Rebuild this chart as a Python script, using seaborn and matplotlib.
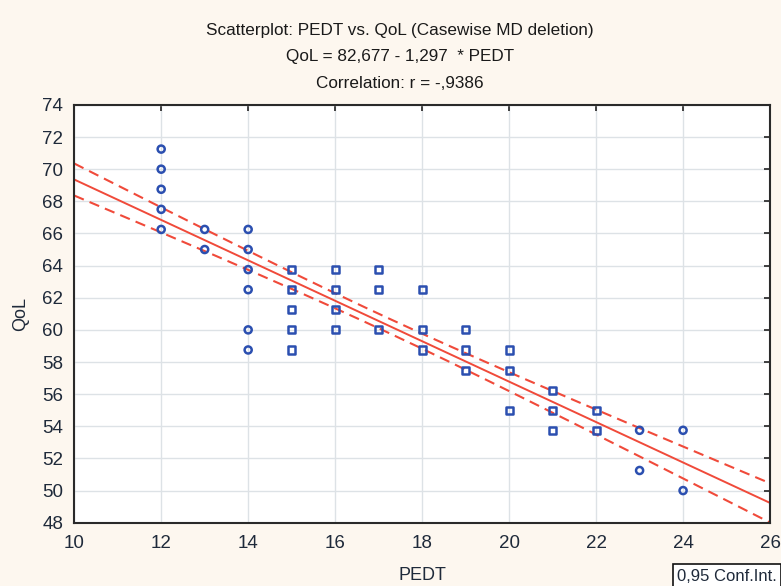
import numpy as np
import pandas as pd
import matplotlib
matplotlib.use("Agg")
import matplotlib.pyplot as plt
import seaborn as sns

pedt = [12, 12, 12, 12, 12,
        13, 13,
        14, 14, 14, 14, 14, 14,
        15, 15, 15, 15, 15,
        16, 16, 16, 16,
        17, 17, 17,
        18, 18, 18,
        19, 19, 19,
        20, 20, 20,
        21, 21, 21,
        22, 22,
        23, 23,
        24, 24]
qol = [71.25, 70.0, 68.75, 67.5, 66.25,
       66.25, 65.0,
       66.25, 65.0, 63.75, 62.5, 60.0, 58.75,
       63.75, 62.5, 61.25, 60.0, 58.75,
       63.75, 62.5, 61.25, 60.0,
       63.75, 62.5, 60.0,
       62.5, 60.0, 58.75,
       60.0, 58.75, 57.5,
       58.75, 57.5, 55.0,
       56.25, 55.0, 53.75,
       55.0, 53.75,
       53.75, 51.25,
       53.75, 50.0]
# integer-valued data overlap; the narrow conf. band suggests ~2 cases per marker
CASES_PER_MARKER = 2

title_lines = ["Scatterplot: PEDT vs. QoL (Casewise MD deletion)",
               "QoL = 82,677 - 1,297  * PEDT",
               "Correlation: r = -,9386"]
x_ticks = list(range(10, 27, 2))
y_ticks = list(range(48, 75, 2))

df = pd.DataFrame({"PEDT": pedt, "QoL": qol})
df["shape"] = np.where((df["PEDT"] <= 14) | (df["PEDT"] >= 23), "round", "square")

sns.set_style("white")
plt.rcParams["font.family"] = ["Liberation Sans", "DejaVu Sans"]

bg = "#fdf7ef"
red = "#f04a3a"
fig = plt.figure(figsize=(7.81, 5.86), dpi=100, facecolor=bg)
ax = fig.add_axes([0.095, 0.108, 0.891, 0.713])
ax.set_facecolor("white")
ax.set_xlim(10, 26)
ax.set_ylim(48, 74)

sns.scatterplot(data=df, x="PEDT", y="QoL", style="shape",
                markers={"round": "o", "square": "s"}, s=26,
                facecolors="none", edgecolor="#2b4fb0", linewidth=1.8,
                legend=False, ax=ax, zorder=3)

# regression line over the full x-range
sns.regplot(data=df, x="PEDT", y="QoL", scatter=False, ci=None,
            truncate=False, color=red, line_kws={"lw": 1.4},
            ax=ax)

# 95% confidence band as dashed lines
x = np.repeat(df["PEDT"].to_numpy(float), CASES_PER_MARKER)
y = np.repeat(df["QoL"].to_numpy(float), CASES_PER_MARKER)
n = len(x)
b1, b0 = np.polyfit(x, y, 1)
resid = y - (b0 + b1 * x)
s = np.sqrt(np.sum(resid ** 2) / (n - 2))
t_crit = 1.99
xs = np.linspace(10, 26, 200)
se = s * np.sqrt(1 / n + (xs - x.mean()) ** 2 / np.sum((x - x.mean()) ** 2))
fit = b0 + b1 * xs
for band in (fit + t_crit * se, fit - t_crit * se):
    ax.plot(xs, band, color=red, lw=1.5, ls=(0, (5, 3)), zorder=2)

ax.set_xlim(10, 26)
ax.set_ylim(48, 74)
ax.set_xticks(x_ticks)
ax.set_yticks(y_ticks)
ax.grid(True, color="#dde2e6", lw=1.0)
ax.tick_params(direction="in", length=4, width=1.2, top=True, right=True,
               labeltop=False, labelright=False, labelsize=13.5,
               colors="#222222", labelcolor="#1f2a3a")
ax.tick_params(axis="x", pad=9)
ax.tick_params(axis="y", pad=8)
for sp in ax.spines.values():
    sp.set_color("#2a2a2a")
    sp.set_linewidth(1.5)

ax.set_xlabel("PEDT", fontsize=13, color="#1f2a3a", labelpad=11)
ax.set_ylabel("QoL", fontsize=13, color="#1f2a3a", labelpad=9)

for i, line in enumerate(title_lines):
    fig.text(0.512, 0.948 - i * 0.045, line, ha="center", va="center",
             fontsize=12.3, color="#1a1a1a")

fig.text(0.867, 0.004, "0,95 Conf.Int.", ha="left", va="bottom",
         fontsize=12, color="#1f2a3a",
         bbox=dict(boxstyle="square,pad=0.25", fc="white", ec="#111111", lw=1.2))

fig.savefig("out.png", dpi=100, facecolor=bg)
